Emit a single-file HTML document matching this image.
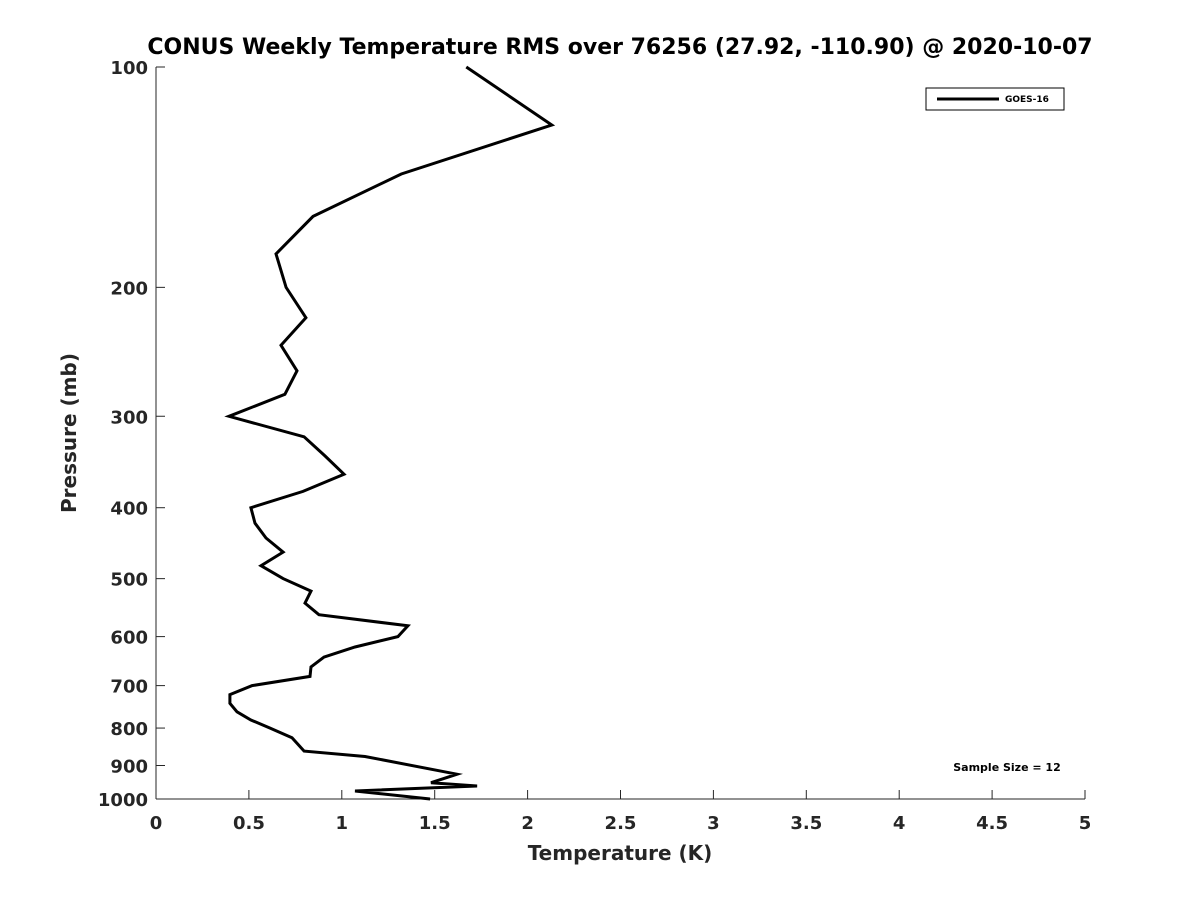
<!DOCTYPE html>
<html><head><meta charset="utf-8"><style>
body{margin:0;background:#fff;}
svg text{font-family:"DejaVu Sans","Liberation Sans",sans-serif;font-weight:bold;fill:#262626;}
</style></head><body>
<svg id="chart" width="1200" height="900" xmlns="http://www.w3.org/2000/svg">
<rect width="1200" height="900" fill="#fff"/>
<text x="620" y="54" text-anchor="middle" font-size="22" style="fill:#000">CONUS Weekly Temperature RMS over 76256 (27.92, -110.90) @ 2020-10-07</text>
<g id="axes"></g>
<text x="620" y="860" text-anchor="middle" font-size="20">Temperature (K)</text>
<text x="0" y="0" text-anchor="middle" font-size="20" transform="translate(76,433) rotate(-90)">Pressure (mb)</text>
<g>
<rect x="926" y="88" width="138" height="22" fill="#fff" stroke="#000" stroke-width="1"/>
<line x1="937" y1="99" x2="999" y2="99" stroke="#000" stroke-width="3"/>
<text x="1005" y="102" font-size="9" style="fill:#000">GOES-16</text>
</g>
<text x="1007" y="771" text-anchor="middle" font-size="11" style="fill:#000">Sample Size = 12</text>
</svg>
<script>
const xTicks=[0,0.5,1,1.5,2,2.5,3,3.5,4,4.5,5];
const xTickLabels=["0","0.5","1","1.5","2","2.5","3","3.5","4","4.5","5"];
const yTicks=[100,200,300,400,500,600,700,800,900,1000];
const pressure=[100,120,140,160,180,200,220,240,260,280,300,320,340,360,380,400,420,440,460,480,500,520,540,560,580,600,620,640,660,680,700,720,740,760,780,800,825,860,875,925,950,960,975,1000];
const rms=[1.67,2.13,1.32,0.845,0.646,0.70,0.807,0.673,0.759,0.694,0.393,0.797,0.91,1.012,0.791,0.511,0.533,0.592,0.684,0.565,0.684,0.834,0.802,0.877,1.356,1.302,1.071,0.904,0.834,0.829,0.517,0.398,0.398,0.436,0.511,0.614,0.732,0.797,1.125,1.62,1.48,1.728,1.071,1.475];
const X0=156,X1=1085,Y0=67,Y1=799;
const xs=v=>X0+(v-0)/(5-0)*(X1-X0);
const ys=p=>Y0+(Math.log10(p)-2)*(Y1-Y0);
const NS="http://www.w3.org/2000/svg";
const g=document.getElementById('axes');
function mk(t,a){const e=document.createElementNS(NS,t);for(const k in a)e.setAttribute(k,a[k]);g.appendChild(e);return e;}
let ax=mk('line',{x1:X0,y1:Y1,x2:X1,y2:Y1,stroke:'#262626','stroke-width':1});


let ay=mk('line',{x1:X0,y1:Y0,x2:X0,y2:Y1,stroke:'#262626','stroke-width':1});


xTicks.forEach((v,i)=>{
 const t=mk('line',{x1:xs(v),y1:Y1,x2:xs(v),y2:Y1-9,stroke:'#262626'});
 
 
 const l=mk('text',{x:xs(v),y:Y1+30,'text-anchor':'middle','font-size':18});
 l.textContent=xTickLabels[i];
 
 
});
yTicks.forEach(p=>{
 const t=mk('line',{x1:X0,y1:ys(p),x2:X0+9,y2:ys(p),stroke:'#262626'});
 
 
 const l=mk('text',{x:X0-8,y:ys(p)+7,'text-anchor':'end','font-size':18});
 l.textContent=String(p);
 
 
});
const pts=pressure.map((p,i)=>xs(rms[i]).toFixed(1)+','+ys(p).toFixed(1)).join(' ');
const line=mk('polyline',{points:pts,fill:'none',stroke:'#000','stroke-width':3,'stroke-linejoin':'miter'});


</script>
</body></html>
